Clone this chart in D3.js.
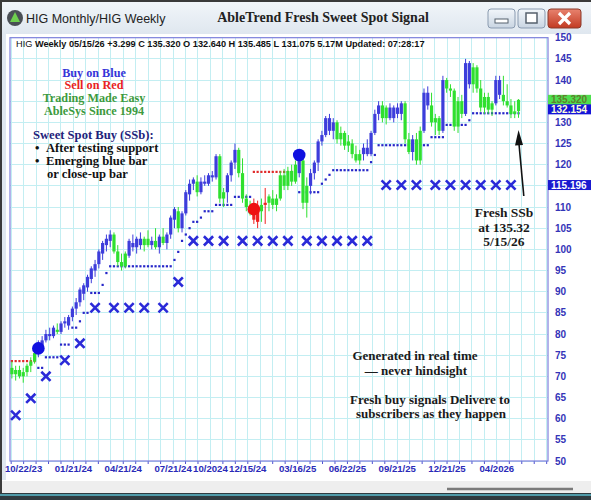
<!DOCTYPE html>
<html><head><meta charset="utf-8">
<script src="https://cdn.jsdelivr.net/npm/d3@7"></script>
<style>body{margin:0;background:#fff;overflow:hidden}svg{display:block}</style>
</head><body><svg id="c" width="591" height="500"></svg>
<script>
// ---------- DATA ----------
const openP = [72,70.5,71.5,70,71,72.5,73.5,75.5,77,78.5,80,79.5,81,80.5,82.5,82,84,86,87.5,89.5,91,93,95,96.5,99,101,102,103.5,99.5,97,96,98.5,101.5,100.5,102.5,101,102.5,101,102,100.5,103,101.5,103.5,107,109,105,108.5,113,115.5,116,113.5,116,115.5,117.5,117,122,112,113.5,117.5,120.5,123.5,118,112,110,109.5,106.5,109,110.5,111,112,110.5,112,117.5,115,118.5,116,118,121,111,115,118,120.5,125.5,127,131,128,130,126,127.5,124.5,125,122.5,121,122.5,124,122.5,127.5,132,134,131,133.5,131,133.5,132,134.5,126,123,126,121,128,137,134,130,131,128,140,138,137.5,129,135,132,144,139,143,138,133.5,136,133,134.5,140,136.5,135,134,132,132.64];
const highP = [73.5,72.5,72.5,72,73,74.5,76,78.5,79.5,81,81.5,82,82.5,83,84,84.5,86.5,88.5,91,92,94,96,97.5,100,102,103.5,104.5,104,101,99,99.5,102.5,103.5,103,104,103,104.5,103,105,103.5,105,104,108,110,110,109,114,116.5,117,117.5,117,117.5,118,118.5,122.5,122.5,114.5,118,121,125,124,121.5,113,111.5,112,111.5,112,114.5,113,114,113,118.5,119,119.5,120,121,122,121.5,117,119,121,126,128,131.5,132,131,130.5,129,128,127,126,124.5,123.5,125,126,128,133,135,135,134,134.5,134,134.5,135,135,127.5,127,127.5,129,138,138.5,137,132,131.5,141,140.5,139,138,136,136.5,145,144.5,144,143.5,140,137,137,135,141,141,141,139,135.5,135,135.485];
const lowP = [69.5,69,69.5,68.5,70,71,73,74.5,76,78,78.5,79,80,80,81.5,81,83,84.5,86.5,88,90,92,93.5,95.5,97.5,99.5,100.5,99,96,95,95.5,98,99.5,99,100,99.5,100.5,100,100,99,101,100,102.5,105,104,104,108,111.5,114,112.5,113,115,115,116,116.5,111,110,111,116,119,117,111,109,108,106,105,106.5,106,109,109.5,109,111.5,114,114,115,115.5,117,109.5,107.5,113,116.5,118.5,124.5,126.5,127,126,125,124.5,123.5,123,121.5,120.5,120,121,122,122,127,130.5,130,129.5,130.5,130,131,130.5,125,122.5,121,120,120,127.5,133,129,127,127,127.5,137,136,128,127.5,131,131.5,138,137,137,132.5,132,132,131.5,134,135.5,134,133.5,131,131,131.075];
const closeP = [70.5,71.5,70,71,72.5,73.5,75.5,78,78.5,80,79.5,81.5,80.5,82.5,83,84,86,87.5,90.5,91.5,93.5,95.5,96.5,99.5,101.5,102.5,103.5,99.5,97,96,99,102,100.5,102.5,101,102.5,101,102,100.5,103,101.5,103.5,107.5,109.5,105,108.5,113.5,115.5,116.5,113.5,116,115.5,117.5,117,122,112,113.5,117.5,120.5,123.5,118,112,110,108.5,107,109,110.5,111,112.5,110.5,112,117.5,115,118.5,116,120,121,111,115,118,120.5,125.5,127,131,128,130,126,127.5,124.5,125.5,122.5,121,122.5,124,122.5,127.5,132,134,131,133.5,131,133.5,132,134.5,126,123,126,121,128,137,134,130,131,128,140,138,137.5,129,135,132,144,139,143,138,133.5,136,133,134.5,140,136.5,135,134,132,132.6,135.32];
const barColor = ("GGGGGGG"+"BBBBB"+"G"+"BBBBBBBBBBBBBB"+"GGGG"+"BBBB"+"GG"+"B"+"G"+"B"+"G"+"BBB"+"G"+"BBBB"+"G"+"BBBBB"+"GG"+"BBB"+"GGGG"+"RR"+"G"+"R"+"GGGGGGGG"+"B"+"GG"+"BBBBBBB"+"GGGGGGG"+"BBBBB"+"GG"+"BBBB"+"GG"+"B"+"GG"+"BB"+"GGG"+"B"+"GGGGG"+"BB"+"GGGGGG"+"BB"+"GGGGG").split("");
const stopValue = [73.6,73.6,73.6,73.6,73.6,73.6,73.6,72,72,74.5,74.5,74.5,74.5,77.5,77.5,77.5,81.5,81.5,83,85,85,89.7,89.7,89.7,91.6,94.4,96,96,96,96,96,96,96,96,96,96,96,96,96,96,96,96,96,97.5,99.4,102,103.5,105,106.5,106.5,107.5,109,109,109,110.5,110.5,110.5,110.5,110.5,112.4,112.4,112.4,112.4,112.4,118.3,118.3,118.3,118.3,118.3,118.3,118.3,118.3,118.3,118.3,118.3,118.3,113.5,113.5,113.5,113.5,113.5,113.5,115.5,116.5,117.6,118.7,118.7,118.7,118.7,118.7,118.7,118.7,118.7,118.7,118.7,120.6,122.3,124.6,124.6,124.6,124.6,124.6,124.6,124.6,124.6,124.6,124.6,124.6,124.6,124.6,124.6,126.5,126.5,126.5,126.5,129.4,129.4,129.4,129.4,129.4,129.4,130.5,132.15,132.15,132.15,132.15,132.15,132.15,132.15,132.15,132.15,132.15,132.15,132.15,132.15];
const stopColor = ("rrrrrrr"+"b".repeat(57)+"rrrrrrrrrrrr"+"b".repeat(59)).split("");
const xMarkIndex = [1,5,9,14,18,22,27,31,35,40,44,48,52,56,61,65,69,73,78,82,86,90,94,99,103,107,112,116,120,124,128,132];
const xMarkValue = [60.8,64.8,70,73.8,77.8,86.2,86.2,86.2,86.2,86.2,92.3,102,102,102,102,102,102,102,102,102,102,102,102,115.2,115.2,115.2,115.2,115.2,115.2,115.2,115.2,115.2];
const signalIndex = [7,64,76];
const signalValue = [76.6,109.5,122.3];
const signalColor = ["#1010e0","#ee1111","#1010e0"];
const yTickValues = [150,145,140,135,130,125,120,115,110,105,100,95,90,85,80,75,70,65,60,55,50];
const xTickLabels = ["10/22/23","01/21/24","04/21/24","07/21/24","10/2024","12/15/24","03/16/25","06/22/25","09/21/25","12/21/25","04/2026"];
const xTickGridPos = [1,5,9,13,16,19,23,27,31,35,39];
const lastClose = 135.320, lastStop = 132.154, longStop = 115.196;

// ---------- LAYOUT ----------
const svg = d3.select("#c");
const L = 10, R = 548;
const x = d3.scaleLinear().domain([-0.5, 141.8]).range([L, R]);
const y = d3.scaleLinear().domain([50, 150]).range([461, 37.7]);
const gridStep = 3.294, gridStart = -0.19;
const gridIdx = d3.range(0, 44).map(k => gridStart + gridStep * k);
const colMap = {B:"#3d3ddb", G:"#2fe02f", R:"#ee2020"};

// window chrome
const defs = svg.append("defs");
const tg = defs.append("linearGradient").attr("id","tb").attr("x1",0).attr("x2",0).attr("y1",0).attr("y2",1);
tg.append("stop").attr("offset","0%").attr("stop-color","#f2f6fa");
tg.append("stop").attr("offset","100%").attr("stop-color","#dfe7ef");
const bg = defs.append("linearGradient").attr("id","btn").attr("x1",0).attr("x2",0).attr("y1",0).attr("y2",1);
bg.append("stop").attr("offset","0%").attr("stop-color","#f2f6fa");
bg.append("stop").attr("offset","100%").attr("stop-color","#c9d5e2");
const rg = defs.append("linearGradient").attr("id","cls").attr("x1",0).attr("x2",0).attr("y1",0).attr("y2",1);
rg.append("stop").attr("offset","0%").attr("stop-color","#e8836f");
rg.append("stop").attr("offset","100%").attr("stop-color","#c23a22");

svg.append("rect").attr("width",591).attr("height",500).attr("fill","#fff");
svg.append("rect").attr("width",591).attr("height",34).attr("fill","url(#tb)");
svg.append("rect").attr("width",591).attr("height",2).attr("fill","#3a3a3a");
svg.append("rect").attr("x",0).attr("y",0).attr("width",2).attr("height",500).attr("fill","#3a3a3a");
svg.append("rect").attr("x",2).attr("y",34).attr("width",4).attr("height",446).attr("fill","#dfe7f0");
svg.append("rect").attr("x",2).attr("y",481).attr("width",589).attr("height",12).attr("fill","#eeeeee");
svg.append("line").attr("x1",447).attr("x2",573).attr("y1",489).attr("y2",489).attr("stroke","#7a7a7a").attr("stroke-width",2.5);
svg.append("rect").attr("x",0).attr("y",493).attr("width",591).attr("height",7).attr("fill","#2f3a3f");
svg.append("rect").attr("x",0).attr("y",494).attr("width",591).attr("height",2).attr("fill","#4f9aa8");

// icon + titles
svg.append("circle").attr("cx",15).attr("cy",18).attr("r",8).attr("fill","#4a4f55");
svg.append("path").attr("d","M15,12 L20,22 L10,22 Z").attr("fill","#6fcf4f");
svg.append("text").attr("x",26).attr("y",23).attr("font-family","Liberation Sans, Arial, sans-serif").attr("font-size",12.5).attr("fill","#222").text("HIG Monthly/HIG Weekly");
svg.append("text").attr("x",323).attr("y",22).attr("text-anchor","middle").attr("font-family","Liberation Serif, Times New Roman, serif").attr("font-weight","bold").attr("font-size",14).attr("fill","#222").text("AbleTrend Fresh Sweet Spot Signal");
// buttons
svg.append("rect").attr("x",488).attr("y",9).attr("width",27).attr("height",19).attr("rx",3).attr("fill","url(#btn)").attr("stroke","#8a9bb0");
svg.append("rect").attr("x",495).attr("y",19).attr("width",13).attr("height",4).attr("fill","#fff").attr("stroke","#55606c");
svg.append("rect").attr("x",518).attr("y",9).attr("width",27).attr("height",19).attr("rx",3).attr("fill","url(#btn)").attr("stroke","#8a9bb0");
svg.append("rect").attr("x",526).attr("y",13).attr("width",11).attr("height",10).attr("fill","#fff").attr("stroke","#55606c").attr("stroke-width",1.5);
svg.append("rect").attr("x",548).attr("y",9).attr("width",33).attr("height",19).attr("rx",3).attr("fill","url(#cls)").attr("stroke","#8a3a2a");
svg.append("path").attr("d","M559,13 L570,24 M570,13 L559,24").attr("stroke","#fff").attr("stroke-width",3.2);

// grid
const g = svg.append("g");
g.selectAll("line.v").data(gridIdx).join("line").attr("class","v")
  .attr("x1",d=>x(d)).attr("x2",d=>x(d)).attr("y1",y(150)).attr("y2",y(50))
  .attr("stroke","#c3eef2").attr("stroke-width",1).attr("shape-rendering","crispEdges");
g.selectAll("line.h").data(yTickValues).join("line").attr("class","h")
  .attr("x1",L).attr("x2",R).attr("y1",d=>y(d)).attr("y2",d=>y(d))
  .attr("stroke","#c3eef2").attr("stroke-width",1).attr("shape-rendering","crispEdges");
// frame
svg.append("rect").attr("x",L).attr("y",y(150)).attr("width",R-L).attr("height",y(50)-y(150))
  .attr("fill","none").attr("stroke","#7f7fdc").attr("stroke-width",1.2);

// x axis ticks + labels
g.selectAll("line.t").data(gridIdx).join("line").attr("class","t")
  .attr("x1",d=>x(d)).attr("x2",d=>x(d)).attr("y1",y(50)).attr("y2",y(50)+3)
  .attr("stroke","#5050d0").attr("stroke-width",1);
svg.selectAll("text.xl").data(xTickLabels).join("text").attr("class","xl")
  .attr("x",(d,i)=>x(gridIdx[xTickGridPos[i]])).attr("y",472).attr("text-anchor","middle")
  .attr("font-family","Liberation Sans Narrow, Arial Narrow, Liberation Sans, sans-serif").attr("font-weight","bold").attr("font-size",9.6)
  .attr("fill","#2a2ab8").text(d=>d);

// price boxes (drawn over the axis column, hiding the labels they cover)
const boxes = [
  {v:lastClose, yc:y(lastClose), fill:"#4fe04f", t:"#5f7f2a"},
  {v:lastStop,  yc:y(lastClose)+9.5, fill:"#1414d8", t:"#ffffd8"},
  {v:longStop,  yc:y(longStop), fill:"#1a1ad0", t:"#ffffff"}
];
const hidden = yTickValues.filter(v => boxes.some(b => Math.abs(y(v)-b.yc) < 5));
svg.selectAll("text.yl").data(yTickValues.filter(v=>!hidden.includes(v))).join("text").attr("class","yl")
  .attr("x",555).attr("y",d=>y(d)+3.5)
  .attr("font-family","Liberation Sans, Arial, sans-serif").attr("font-weight","bold").attr("font-size",10)
  .attr("fill","#3434b8").text(d=>d);
boxes.forEach(b=>{
  svg.append("rect").attr("x",548).attr("y",b.yc-5).attr("width",43).attr("height",10).attr("fill",b.fill);
  svg.append("text").attr("x",551).attr("y",b.yc+3.6).attr("font-family","Liberation Sans, Arial, sans-serif").attr("font-weight","bold").attr("font-size",10).attr("fill",b.t).text(b.v.toFixed(3));
});

// long-term X marks
const xs = 4.6;
svg.selectAll("path.xm").data(xMarkIndex).join("path").attr("class","xm")
  .attr("d",(d,i)=>{const cx=x(d), cy=y(xMarkValue[i]); return `M${cx-xs},${cy-xs}L${cx+xs},${cy+xs}M${cx+xs},${cy-xs}L${cx-xs},${cy+xs}`;})
  .attr("stroke","#2a2ad8").attr("stroke-width",2.6).attr("fill","none");

// stop dots
svg.selectAll("rect.st").data(stopValue).join("rect").attr("class","st")
  .attr("x",(d,i)=>x(i)-1.1).attr("y",d=>y(d)-1.1).attr("width",2.2).attr("height",2.2)
  .attr("fill",(d,i)=>stopColor[i]==="r"?"#e02a2a":"#2626c8");

// bars
const bars = svg.append("g");
bars.selectAll("line.w").data(openP).join("line").attr("class","w")
  .attr("x1",(d,i)=>x(i)).attr("x2",(d,i)=>x(i)).attr("y1",(d,i)=>y(highP[i])).attr("y2",(d,i)=>y(lowP[i]))
  .attr("stroke",(d,i)=>colMap[barColor[i]]).attr("stroke-width",1);
bars.selectAll("rect.b").data(openP).join("rect").attr("class","b")
  .attr("x",(d,i)=>x(i)-1.6).attr("width",3.2)
  .attr("y",(d,i)=>y(Math.max(d,closeP[i]))).attr("height",(d,i)=>Math.max(1,Math.abs(y(d)-y(closeP[i]))))
  .attr("fill",(d,i)=>colMap[barColor[i]]);

// signal circles
svg.selectAll("circle.sg").data(signalIndex).join("circle").attr("class","sg")
  .attr("cx",d=>x(d)).attr("cy",(d,i)=>y(signalValue[i])).attr("r",6.3)
  .attr("fill",(d,i)=>signalColor[i]);

// header
const hdr = svg.append("text").attr("x",16).attr("y",47).attr("font-family","Liberation Sans, Arial, sans-serif").attr("font-size",9.2).attr("fill","#111");
hdr.append("tspan").text("HIG  ");
hdr.append("tspan").attr("font-weight","bold").text("Weekly 05/15/26 +3.299 C 135.320 O 132.640 H 135.485 L 131.075 5.17M Updated: 07:28:17");

// left legend text
const serif = "Liberation Serif, Times New Roman, serif";
const fs = 12.2;
const leg = [["Buy on Blue","#3535d8",76.5],["Sell on Red","#e82222",89.3],["Trading Made Easy","#3d9a3d",102.1],["AbleSys Since 1994","#3d9a3d",114.9]];
leg.forEach(l=>svg.append("text").attr("x",94).attr("y",l[2]).attr("text-anchor","middle").attr("font-family",serif).attr("font-weight","bold").attr("font-size",fs).attr("fill",l[1]).text(l[0]));
svg.append("text").attr("x",33).attr("y",139).attr("font-family",serif).attr("font-weight","bold").attr("font-size",fs+0.4).attr("fill","#22227a").text("Sweet Spot Buy (SSb):");
[["•","After testing support",151.9],["•","Emerging blue bar",164.8]].forEach(l=>{
  const t = svg.append("text").attr("y",l[2]).attr("font-family",serif).attr("font-weight","bold").attr("font-size",fs+0.4).attr("fill","#111");
  t.append("tspan").attr("x",35).text(l[0]);
  t.append("tspan").attr("x",46).text(l[1]);
});
svg.append("text").attr("x",47).attr("y",177.7).attr("font-family",serif).attr("font-weight","bold").attr("font-size",fs+0.4).attr("fill","#111").text("or close-up bar");

// annotation arrow
const tip = [x(134), y(128.2)], tail = [x(135.4), y(112.6)];
svg.append("line").attr("x1",tail[0]).attr("y1",tail[1]).attr("x2",tip[0]+0.3).attr("y2",tip[1]+12).attr("stroke","#111").attr("stroke-width",1.6);
svg.append("path").attr("d",`M${tip[0]},${tip[1]} L${tip[0]+4.5},${tip[1]+15} L${tip[0]-3.5},${tip[1]+15.5} Z`).attr("fill","#111");
[["Fresh SSb",217],["at 135.32",231.5],["5/15/26",246]].forEach(l=>svg.append("text").attr("x",504).attr("y",l[1]).attr("text-anchor","middle").attr("font-family",serif).attr("font-weight","bold").attr("font-size",13.5).attr("fill","#1a1a1a").text(l[0]));
[["Generated in real time",415,360],["— never hindsight",416,375],["Fresh buy signals Delivere to",430,404],["subscribers as they happen",431,418]].forEach(l=>svg.append("text").attr("x",l[1]).attr("y",l[2]).attr("text-anchor","middle").attr("font-family",serif).attr("font-weight","bold").attr("font-size",13).attr("fill","#1a1a1a").text(l[0]));
</script></body></html>
